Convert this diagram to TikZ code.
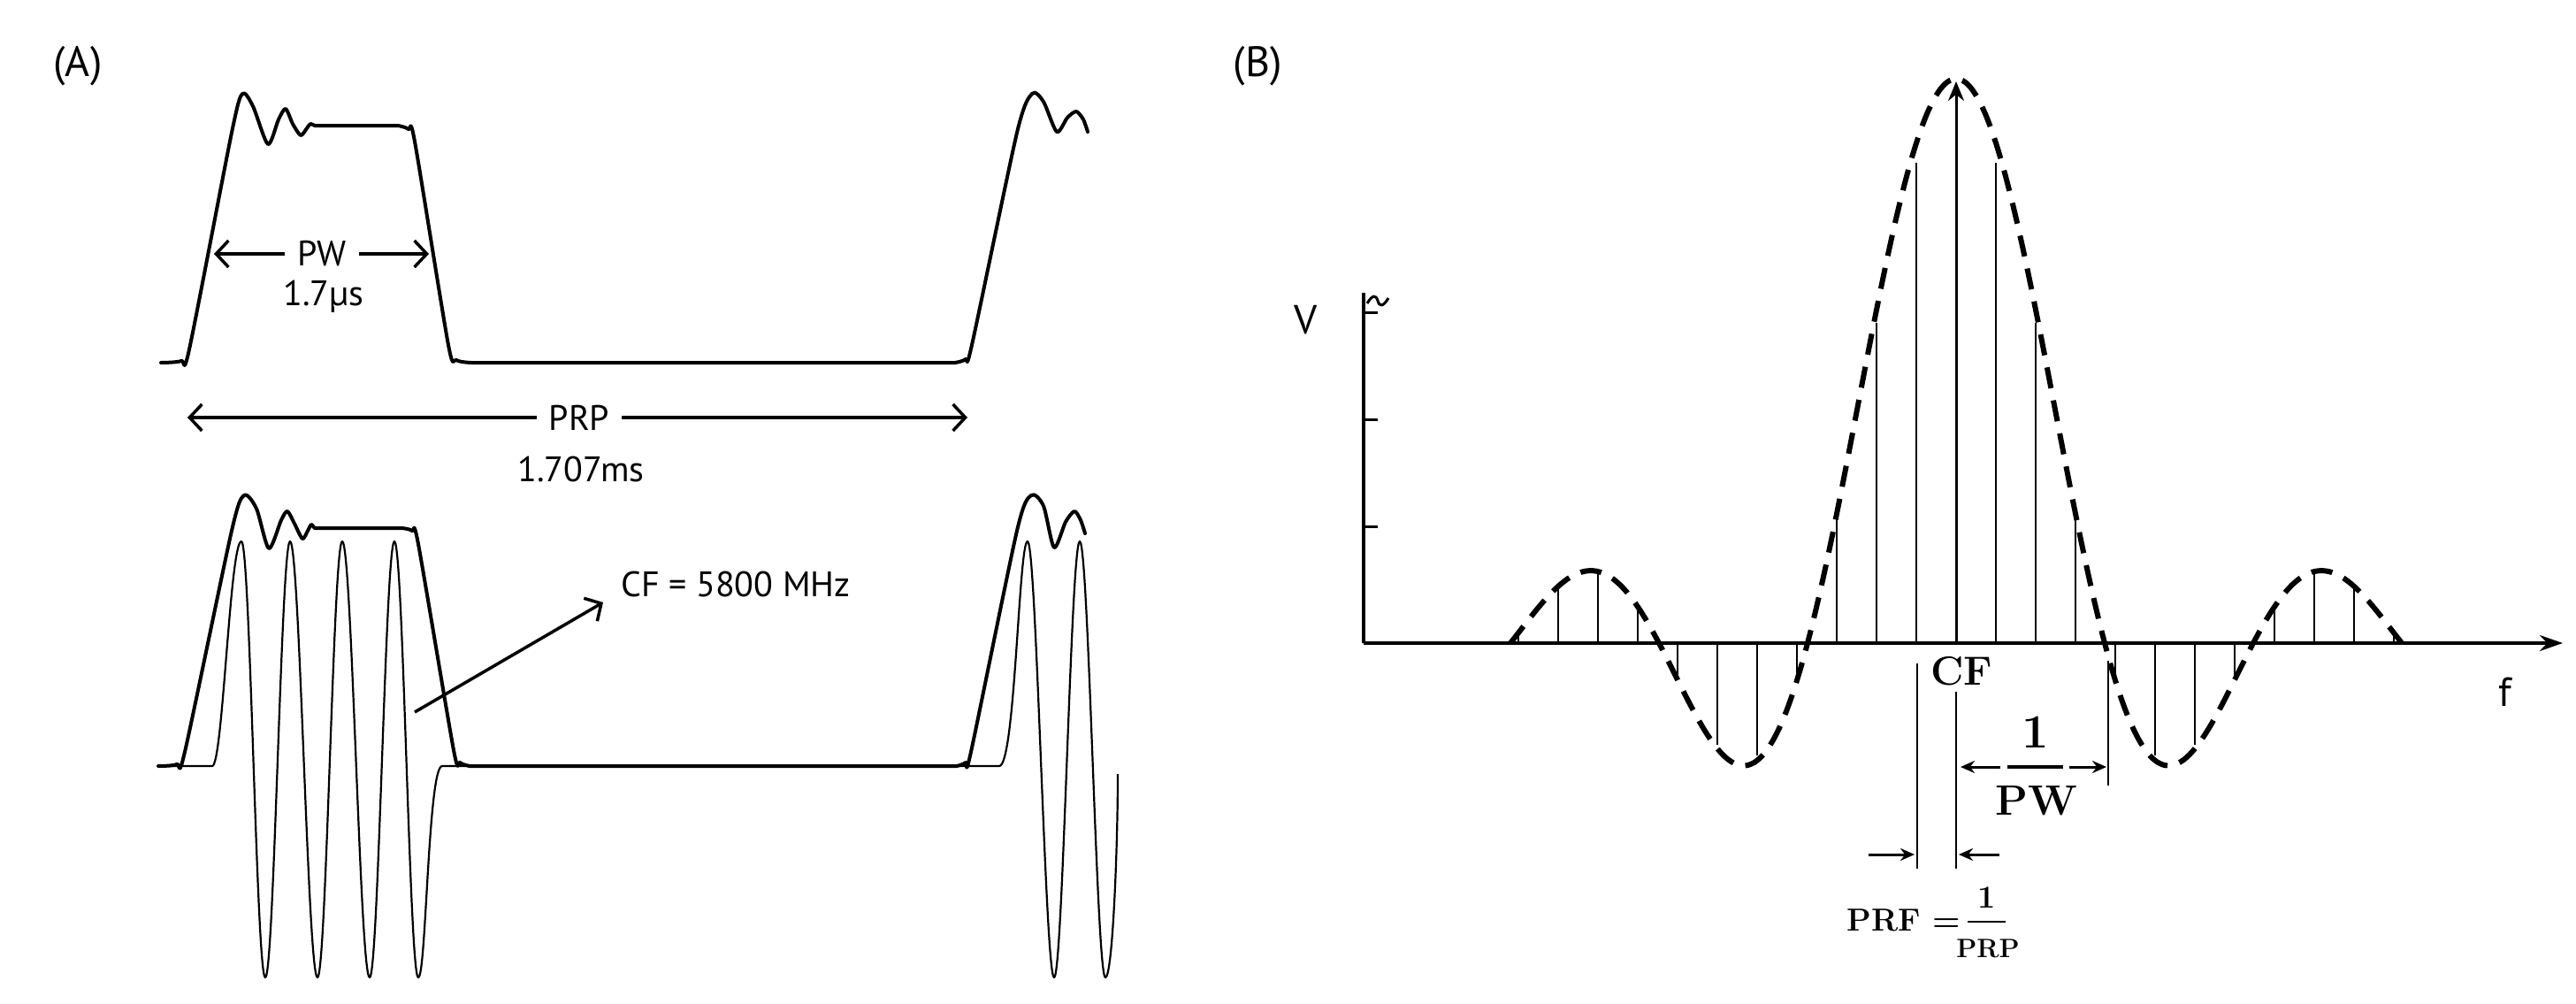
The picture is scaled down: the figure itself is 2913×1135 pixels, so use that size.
\documentclass[tikz,border=0pt]{standalone}
\usepackage{fontspec}
\setsansfont{PT Sans}
\usetikzlibrary{arrows.meta}
\begin{document}
\begin{tikzpicture}[x=1pt,y=-1pt,
  thick line/.style={line width=4pt,line join=round,line cap=round},
  thin line/.style={line width=2.2pt,line join=round},
  dimarrow/.style={line width=3.5pt,{Straight Barb[length=14pt,width=30pt]}-{Straight Barb[length=14pt,width=30pt]}},
  sanslbl/.style={font=\sffamily\fontsize{40}{48}\selectfont,inner sep=2pt},
  gaplbl/.style={sanslbl,inner xsep=14pt},
  panellbl/.style={font=\sffamily\fontsize{48}{56}\selectfont},
  seriflbl/.style={font=\bfseries\fontsize{46}{52}\selectfont,inner sep=1pt},
  stealtharrow/.style={line width=3pt,-{Stealth[length=22pt,width=18pt]}},
  sincdash/.style={line width=6pt,dash pattern=on 24pt off 14pt}]
\useasboundingbox (0,0) rectangle (2913,1135);
\node[panellbl] (pA) at (88,75) {(A)};
\node[panellbl] (pB) at (1422,75) {(B)};
% ---------- top pulse ----------
\draw[thick line] plot[smooth,tension=0.45] coordinates {(182,410)(205,408)(214,395)(262,150)(274,106)(286,120)(303,163)(315,135)(323,123)(331,140)(340,153)(347,145)(351,140)(356,142)(362,142)}
 -- (450,142) plot[smooth,tension=0.45] coordinates {(450,142)(462,146)(469,160)(507,390)(516,407)(533,410)}
 -- (1080,410) plot[smooth,tension=0.45] coordinates {(1080,410)(1092,406)(1099,390)(1150,150)(1167,106)(1180,115)(1195,149)(1207,133)(1217,126)(1225,135)(1230,149)};
\coordinate (pwL) at (242,287); \coordinate (pwR) at (485,287);
\node[gaplbl] (pw) at (364,287) {PW};
\node[sanslbl] (pwv) at (366,335) {1.7µs};
\draw[dimarrow,-{Straight Barb[length=14pt,width=30pt]}] (pw.west) -- (pwL);
\draw[dimarrow,-{Straight Barb[length=14pt,width=30pt]}] (pw.east) -- (pwR);
\coordinate (prpL) at (212,472); \coordinate (prpR) at (1094,472);
\node[gaplbl] (prp) at (655,472) {PRP};
\node[sanslbl] (prpv) at (657,530) {1.707ms};
\draw[dimarrow,-{Straight Barb[length=14pt,width=30pt]}] (prp.west) -- (prpL);
\draw[dimarrow,-{Straight Barb[length=14pt,width=30pt]}] (prp.east) -- (prpR);
% ---------- bottom pulse ----------
\draw[thick line] plot[smooth,tension=0.45] coordinates {(179,866)(200,864)(209,850)(262,600)(276,560)(290,575)(304,620)(318,588)(325,578)(333,592)(342,609)(348,600)(352,593)(356,597)(362,597)}
 -- (454,597) plot[smooth,tension=0.45] coordinates {(454,597)(466,600)(473,615)(513,848)(520,862)(531,866)}
 -- (1082,866) plot[smooth,tension=0.45] coordinates {(1082,866)(1092,862)(1098,850)(1150,600)(1166,560)(1180,572)(1192,619)(1205,590)(1215,578)(1222,588)(1227,603)};
\draw[thin line] (179,866) -- (240,866) .. controls (252,866) and (260,612) .. (273,612)
 .. controls (283,612) and (290,1105) .. (300,1105)
 .. controls (310,1105) and (318,612) .. (328,612)
 .. controls (339,612) and (348,1105) .. (359,1105)
 .. controls (369,1105) and (377,612) .. (387,612)
 .. controls (398,612) and (407,1105) .. (418,1105)
 .. controls (428,1105) and (436,612) .. (446,612)
 .. controls (456,612) and (463,1105) .. (473,1105)
 .. controls (482,1105) and (484,866) .. (500,866) -- (1130,866)
 .. controls (1148,866) and (1152,612) .. (1162,612)
 .. controls (1172,612) and (1182,1105) .. (1192,1105)
 .. controls (1202,1105) and (1211,612) .. (1221,612)
 .. controls (1231,612) and (1240,1105) .. (1250,1105)
 .. controls (1258,1105) and (1264,960) .. (1264,875);
\node[sanslbl,anchor=west] (cf) at (700,660) {CF = 5800 MHz};
\coordinate (cfS) at (469,805);
\draw[line width=3.5pt,-{Straight Barb[length=14pt,width=30pt]}] (cfS) -- (682,681);
% ---------- panel B ----------
\coordinate (O) at (1542,727);
\draw[line width=4pt] (O) -- (1542,331);
\draw[line width=4pt,-{Stealth[length=26pt,width=18pt]}] (O) -- (2898,727);
\foreach \yy in {595,474,353} \draw[line width=3pt] (1542,\yy) -- (1558,\yy);
\draw[line width=3pt] (1546,343) .. controls (1552,333) and (1556,333) .. (1558,340) .. controls (1560,347) and (1564,347) .. (1570,337);
\node[font=\sffamily\fontsize{46}{52}\selectfont] (V) at (1477,362) {V};
\node[font=\sffamily\fontsize{46}{52}\selectfont] (f) at (2833,782) {f};
\foreach \k in {-11,...,-1,1,2,...,11}{
  \pgfmathsetmacro{\xx}{\k*45/168}
  \pgfmathsetmacro{\vv}{sin(180*\xx)/(pi*\xx)}
  \draw[thin line] (2212+45*\k,727) -- (2212+45*\k,{727-638*0.96*\vv});
}
\draw[stealtharrow] (2212,727) -- (2212,92);
\draw[sincdash] plot[domain=-3:3,samples=140,smooth] ({2212+168*\x},{727-638*sin(180*\x)/(pi*\x)});
\node[seriflbl] (CFl) at (2218,759) {CF};
% PRF markers
\draw[thin line] (2168,750) -- (2168,982);
\draw[thin line] (2212,782) -- (2212,982);
\draw[line width=3pt,-{Stealth[length=16pt,width=14pt]}] (2113,966) -- (2165,966);
\draw[line width=3pt,-{Stealth[length=16pt,width=14pt]}] (2261,966) -- (2215,966);
\node[seriflbl,font=\bfseries\fontsize{36}{40}\selectfont,anchor=east] (prf) at (2218,1040) {PRF =};
\node[seriflbl,font=\bfseries\fontsize{36}{40}\selectfont] (prf1) at (2247,1015) {1};
\draw[line width=2.5pt] (2225,1042) -- (2268,1042);
\node[seriflbl,font=\bfseries\fontsize{30}{36}\selectfont] (prfd) at (2248,1072) {PRP};
% 1/PW marker
\draw[thin line] (2384,747) -- (2384,888);
\node[seriflbl,font=\bfseries\fontsize{54}{60}\selectfont] (one) at (2302,828) {1};
\draw[line width=3.5pt] (2270,867) -- (2333,867);
\node[seriflbl,font=\bfseries\fontsize{48}{54}\selectfont] (pwd) at (2303,905) {PW};
\draw[line width=3pt,-{Stealth[length=16pt,width=14pt]}] (2262,867) -- (2217,867);
\draw[line width=3pt,-{Stealth[length=16pt,width=14pt]}] (2340,867) -- (2382,867);
\end{tikzpicture}
\end{document}
